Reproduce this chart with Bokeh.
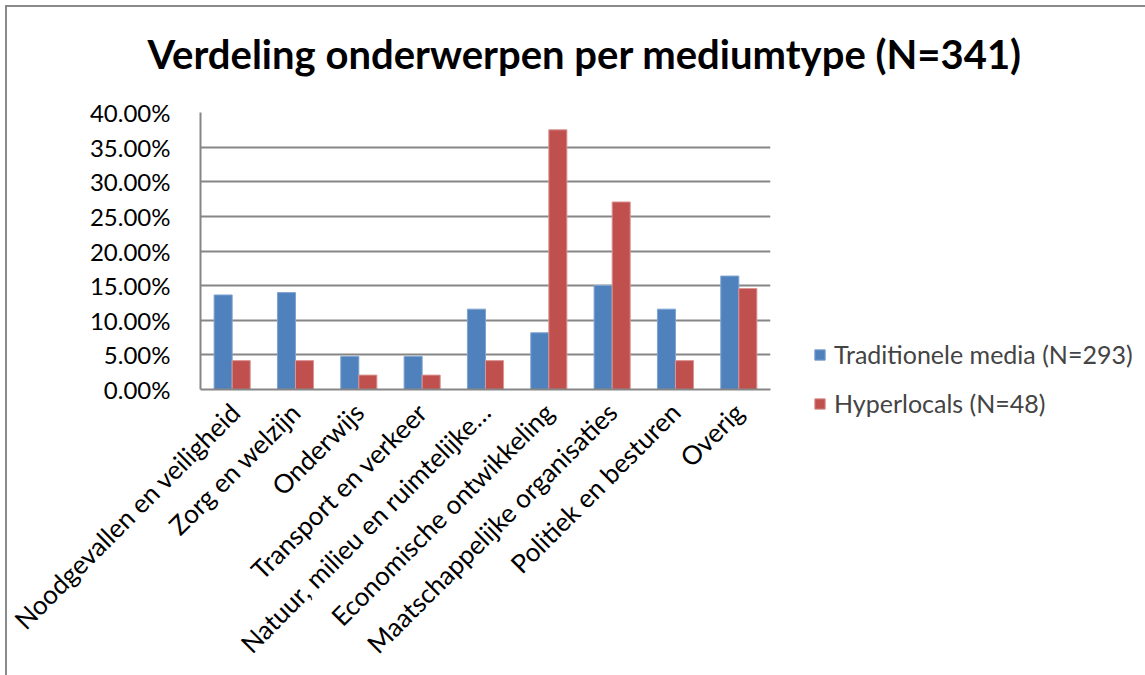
from bokeh.plotting import figure
from bokeh.models import FactorRange, Range1d, NumeralTickFormatter, FixedTicker, Legend, LegendItem, ColumnDataSource, Title
from bokeh.transform import dodge
from bokeh.embed import file_html
from bokeh.resources import INLINE

categories = [
    "Noodgevallen en veiligheid",
    "Zorg en welzijn",
    "Onderwijs",
    "Transport en verkeer",
    "Natuur, milieu en ruimtelijke…",
    "Economische ontwikkeling",
    "Maatschappelijke organisaties",
    "Politiek en besturen",
    "Overig",
]
traditionele = [0.1365, 0.1399, 0.0478, 0.0478, 0.1160, 0.0819, 0.1502, 0.1160, 0.1638]
hyperlocals = [0.0417, 0.0417, 0.0208, 0.0208, 0.0417, 0.3750, 0.2708, 0.0417, 0.1458]
series_names = ["Traditionele media (N=293)", "Hyperlocals (N=48)"]
y_ticks = [0.0, 0.05, 0.10, 0.15, 0.20, 0.25, 0.30, 0.35, 0.40]

BLUE = "#4F81BD"
RED = "#C0504D"
GRID = "#868686"
FONT = "Lato"

src = ColumnDataSource(dict(cat=categories, a=traditionele, b=hyperlocals))

ox, oy = 7, 7
p = figure(
    x_range=FactorRange(*categories, range_padding=0.0),
    y_range=Range1d(0, 0.40),
    frame_width=570, frame_height=277,
    output_backend="svg", toolbar_location=None,
    min_border_left=200 - ox, min_border_top=112 - oy,
    min_border_bottom=300, min_border_right=400,
)
p.styles = {"border-left": "2px solid #8a8a8a", "border-top": "2px solid #8a8a8a",
            "margin-left": "5px", "margin-top": "5px"}
p.x_range.factor_padding = 0.0

bw = 0.285
ra = p.vbar(x=dodge("cat", -bw / 2, range=p.x_range), top="a", width=bw, source=src,
            fill_color=BLUE, line_color="#7FA3D0", line_width=1)
rb = p.vbar(x=dodge("cat", bw / 2, range=p.x_range), top="b", width=bw, source=src,
            fill_color=RED, line_color="#D99694", line_width=1)

# spacer panel between the title and the plot frame
spacer = Title(text=" ", text_font_size="1px", standoff=32)
p.add_layout(spacer, "above")

p.title.text = "Verdeling onderwerpen per mediumtype (N=341)"
p.title.text_font = FONT
p.title.text_font_style = "bold"
p.title.text_font_size = "40px"
p.title.align = "left"
p.title.offset = -53
p.title.standoff = 0
p.title.text_color = "black"

p.yaxis.ticker = FixedTicker(ticks=y_ticks)
p.yaxis.formatter = NumeralTickFormatter(format="0.00%")
p.yaxis.major_label_text_font = FONT
p.yaxis.major_label_text_font_size = "24px"
p.yaxis.major_label_text_color = "black"
p.yaxis.major_tick_line_color = None
p.yaxis.minor_tick_line_color = None
p.yaxis.axis_line_color = GRID
p.yaxis.axis_line_width = 2
p.yaxis.major_label_standoff = 24

p.xaxis.major_label_orientation = 0.785398
p.xaxis.major_label_text_font = FONT
p.xaxis.major_label_text_font_size = "26px"
p.xaxis.major_label_text_color = "black"
p.xaxis.major_tick_line_color = None
p.xaxis.axis_line_color = GRID
p.xaxis.axis_line_width = 2
p.xaxis.major_label_standoff = 12

p.xgrid.grid_line_color = None
p.ygrid.grid_line_color = GRID
p.ygrid.grid_line_width = 2
p.ygrid.ticker = FixedTicker(ticks=y_ticks)
p.outline_line_color = None

legend = Legend(items=[LegendItem(label=series_names[0], renderers=[ra]),
                       LegendItem(label=series_names[1], renderers=[rb])],
                location=(43, -29), orientation="vertical")
legend.label_text_font = FONT
legend.label_text_font_size = "25px"
legend.glyph_width = 13
legend.glyph_height = 13
legend.label_standoff = 8
legend.spacing = 19
legend.padding = 0
legend.margin = 0
legend.border_line_color = None
legend.background_fill_alpha = 0
p.add_layout(legend, "right")

open("out.html", "w").write(file_html(p, INLINE))
